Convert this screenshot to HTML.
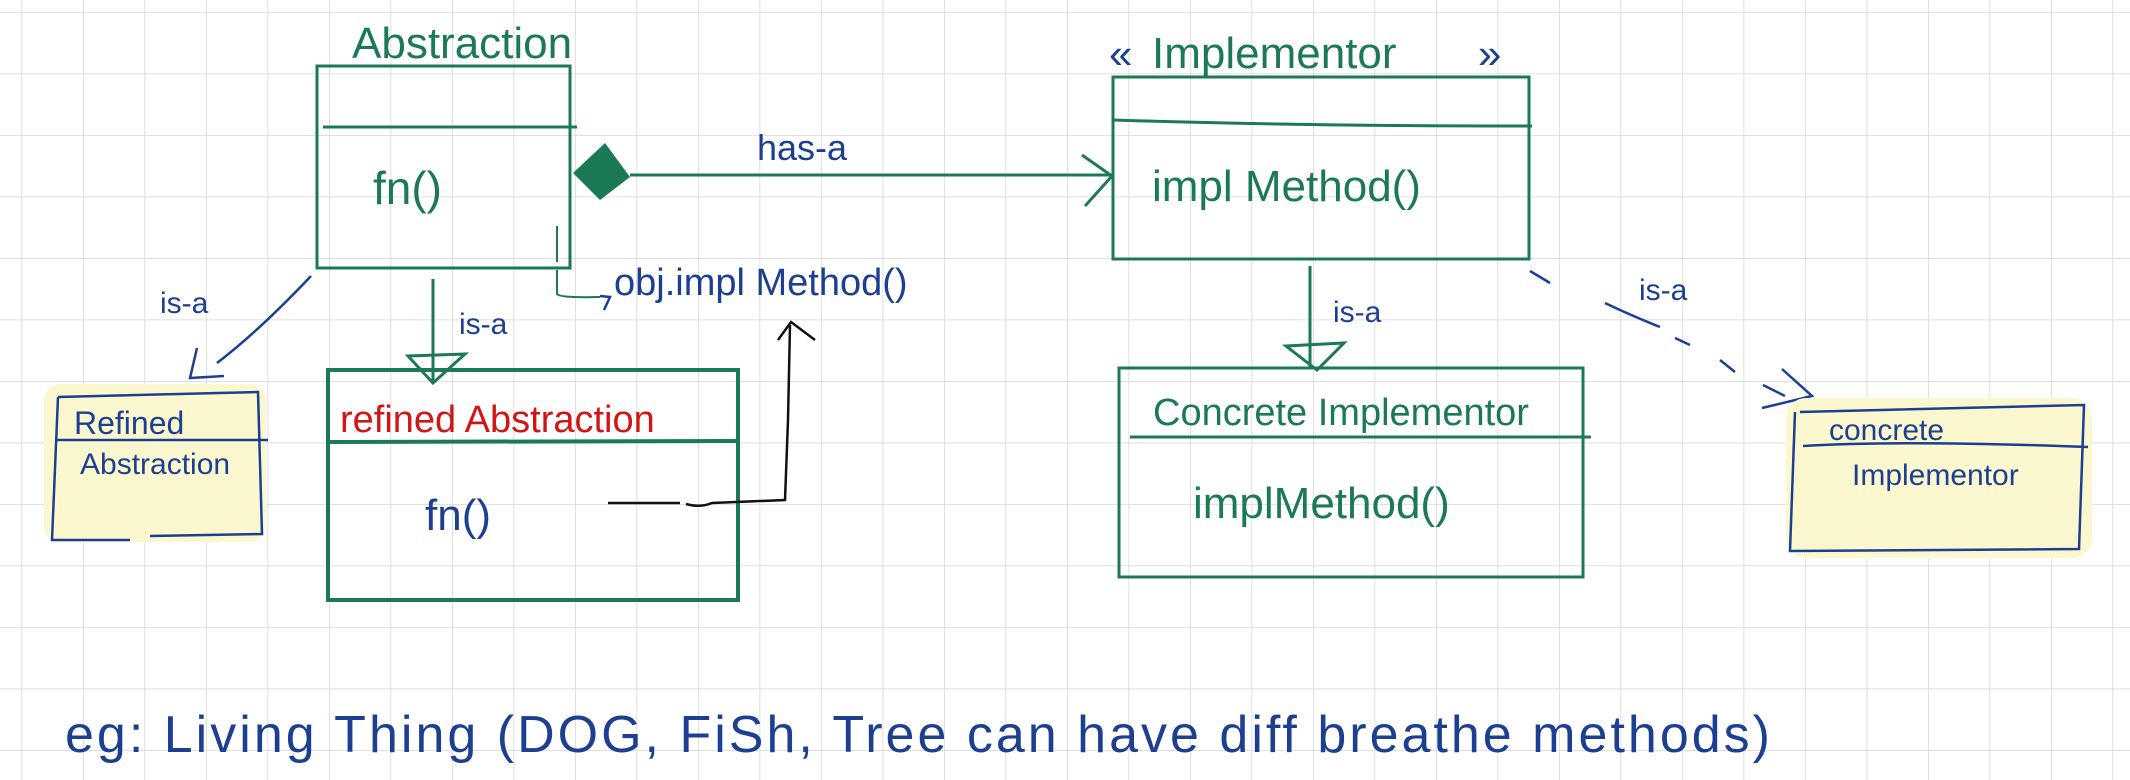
<!DOCTYPE html>
<html><head><meta charset="utf-8"><style>
html,body{margin:0;padding:0;background:#fff;}
svg{display:block}
text{font-family:"Liberation Sans","DejaVu Sans",sans-serif;}
</style></head><body>
<svg width="2130" height="780" viewBox="0 0 2130 780" xmlns="http://www.w3.org/2000/svg">
<defs>
<pattern id="g" x="21.5" y="12" width="61.5" height="61.5" patternUnits="userSpaceOnUse">
<path d="M0 0 H61.5 M0 0 V61.5" stroke="#d6d6d6" stroke-width="1.5" fill="none"/>
</pattern>
</defs>
<rect width="2130" height="780" fill="#fff"/>
<rect width="2130" height="780" fill="url(#g)"/>

<g fill="none" stroke="#1b7a55" stroke-width="3">
<rect x="317" y="66" width="253" height="202"/>
<line x1="323" y1="127" x2="577" y2="127"/>
<line x1="630" y1="175" x2="1112" y2="175"/>
<path d="M1082 155 L1112 176 L1085 206" />
<rect x="1113" y="77" width="416" height="182"/>
<path d="M1113 120 Q1300 126 1532 126"/>
<line x1="433" y1="279" x2="433" y2="383"/>
<path d="M408 356 L465 354 L433 383 Z"/>
<rect x="328" y="370" width="410" height="230" stroke-width="4"/>
<line x1="330" y1="442" x2="738" y2="441" stroke-width="4"/>
<line x1="1310" y1="266" x2="1310" y2="368"/>
<path d="M1286 346 L1344 343 L1317 370 Z"/>
<rect x="1119" y="368" width="464" height="209"/>
<line x1="1130" y1="437" x2="1591" y2="437"/>
<path d="M557 226 L557 262 M557 270 L557 294 Q560 298 600 297" stroke-width="2"/>
</g>
<path d="M573 173 L605 143 L630 177 L600 200 Z" fill="#1b7a55"/>

<g fill="none" stroke="#1d3f91" stroke-width="2.5">
<path d="M311 276 Q260 330 217 363"/>
<path d="M197 348 L190 378 L224 376"/>
<path d="M600 296 L610 297 L604 310"/>
<path d="M1530 271 L1550 283 M1605 303 Q1630 315 1660 327 M1675 338 L1690 345 M1720 360 L1735 372 M1763 385 L1785 396" />
<path d="M1782 369 L1812 396 L1762 408"/>
</g>
<path d="M608 503 L680 503 M686 504 Q700 508 712 503 L785 500 L788 420 L790 325 M778 340 L791 322 L815 340" fill="none" stroke="#111" stroke-width="2.5"/>

<rect x="44" y="384" width="222" height="158" rx="16" fill="#fbf8cf"/>
<g fill="none" stroke="#1d3f91" stroke-width="2.5">
<path d="M58 397 L258 392 L262 534 L150 536 M58 397 L52 540 L130 540"/>
<line x1="56" y1="440" x2="268" y2="440"/>
</g>
<rect x="1786" y="398" width="306" height="160" rx="20" fill="#fbf8cf"/>
<g fill="none" stroke="#1d3f91" stroke-width="2.5">
<path d="M1800 412 L2084 405 L2079 549 L1790 551 L1795 412"/>
<path d="M1803 446 Q1900 440 2088 447"/>
</g>

<g fill="#1b7a55">
<text x="352" y="58" font-size="44">Abstraction</text>
<text x="373" y="204" font-size="46">fn()</text>
<text x="1152" y="201" font-size="44">impl Method()</text>
<text x="1153" y="425" font-size="38">Concrete Implementor</text>
<text x="1193" y="518" font-size="44">implMethod()</text>
</g>
<text x="1109" y="68" font-size="42" fill="#1d3f91">«</text>
<text x="1152" y="68" font-size="44" fill="#1b7a55">Implementor</text>
<text x="1478" y="68" font-size="42" fill="#1d3f91">»</text>
<text x="340" y="432" font-size="38" fill="#d21414">refined Abstraction</text>
<g fill="#1d3f91">
<text x="757" y="160" font-size="36">has-a</text>
<text x="160" y="313" font-size="30">is-a</text>
<text x="459" y="334" font-size="30">is-a</text>
<text x="1333" y="322" font-size="30">is-a</text>
<text x="1639" y="300" font-size="30">is-a</text>
<text x="614" y="295" font-size="38">obj.impl Method()</text>
<text x="425" y="530" font-size="44">fn()</text>
<text x="74" y="434" font-size="32">Refined</text>
<text x="80" y="474" font-size="30">Abstraction</text>
<text x="1829" y="440" font-size="30">concrete</text>
<text x="1852" y="485" font-size="30">Implementor</text>
<text x="65" y="752" font-size="52" textLength="1705" lengthAdjust="spacing">eg:  Living Thing (DOG, FiSh, Tree  can  have  diff  breathe  methods)</text>
</g>
</svg>
</body></html>
